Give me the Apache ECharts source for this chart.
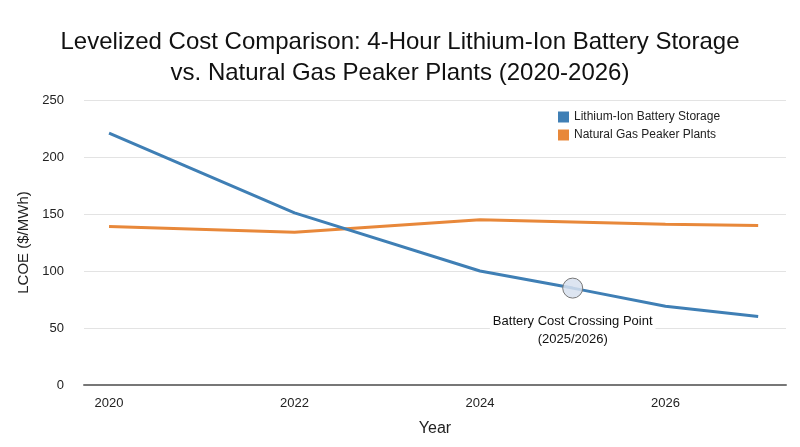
<!DOCTYPE html>
<html>
<head>
<meta charset="utf-8">
<script src="https://cdn.jsdelivr.net/npm/echarts@6/dist/echarts.min.js"></script>
<style>html,body{margin:0;padding:0;background:#fff}#chart{width:800px;height:447px}</style>
</head>
<body>
<div id="chart"></div>
<script>
var batteryYears = [2020, 2022, 2024, 2025, 2026, 2027];
var batteryCost = [221, 151, 100, 85, 69, 60];
var gasYears = [2020, 2022, 2024, 2026, 2027];
var gasCost = [139, 134, 145, 141, 140];
var crossing = [2025, 85];
var yearTicks = [2020, 2022, 2024, 2026];

function pairs(xs, ys) {
    return xs.map(function (x, i) { return [x, ys[i]]; });
}

var myChart = echarts.init(document.getElementById('chart'));
var font = 'Helvetica, Arial, "Liberation Sans", sans-serif';

var option = {
    textStyle: { fontFamily: font },
    title: {
        text: 'Levelized Cost Comparison: 4-Hour Lithium-Ion Battery Storage\nvs. Natural Gas Peaker Plants (2020-2026)',
        left: 'center',
        top: 22,
        textStyle: { fontSize: 24, fontWeight: 'normal', color: '#111', lineHeight: 31, fontFamily: font }
    },
    legend: {
        orient: 'vertical',
        left: 553,
        top: 106,
        itemWidth: 11,
        itemHeight: 11,
        itemGap: 6,
        icon: 'rect',
        textStyle: { fontSize: 12, color: '#222' },
        data: ['Lithium-Ion Battery Storage', 'Natural Gas Peaker Plants']
    },
    grid: { left: 84, right: 14, top: 100, bottom: 62 },
    xAxis: {
        type: 'value',
        min: 2019.73,
        max: 2027.3,
        name: 'Year',
        nameLocation: 'middle',
        nameGap: 36,
        nameTextStyle: { fontSize: 16, color: '#222' },
        axisLine: { lineStyle: { color: '#777', width: 2 } },
        axisTick: { show: false },
        splitLine: { show: false },
        axisLabel: {
            customValues: yearTicks,
            fontSize: 13,
            color: '#222',
            margin: 12,
            formatter: function (v) { return String(v); }
        }
    },
    yAxis: {
        type: 'value',
        min: 0,
        max: 250,
        interval: 50,
        name: 'LCOE ($/MWh)',
        nameLocation: 'middle',
        nameGap: 46,
        nameTextStyle: { fontSize: 15, color: '#222' },
        axisLine: { show: false },
        axisTick: { show: false },
        splitLine: { lineStyle: { color: '#e3e3e3' } },
        axisLabel: { fontSize: 13, color: '#222', margin: 20 }
    },
    series: [{
        name: 'Lithium-Ion Battery Storage',
        type: 'line',
        data: pairs(batteryYears, batteryCost),
        showSymbol: false,
        color: '#3f7fb5',
        lineStyle: { width: 3 },
        z: 3
    }, {
        name: 'Natural Gas Peaker Plants',
        type: 'line',
        data: pairs(gasYears, gasCost),
        showSymbol: false,
        color: '#e8883a',
        lineStyle: { width: 3 },
        z: 2
    }, {
        name: 'crossing',
        type: 'scatter',
        data: [crossing],
        symbolSize: 20,
        itemStyle: { color: 'rgba(215,225,238,0.85)', borderColor: '#777', borderWidth: 1, opacity: 1 },
        label: {
            show: true,
            position: 'bottom',
            distance: 14,
            formatter: 'Battery Cost Crossing Point\n(2025/2026)',
            fontSize: 13,
            color: '#111',
            lineHeight: 18,
            align: 'center',
            backgroundColor: '#fff',
            padding: [0, 3]
        },
        emphasis: { disabled: true },
        z: 5
    }]
};

myChart.setOption(option);
</script>
</body>
</html>
